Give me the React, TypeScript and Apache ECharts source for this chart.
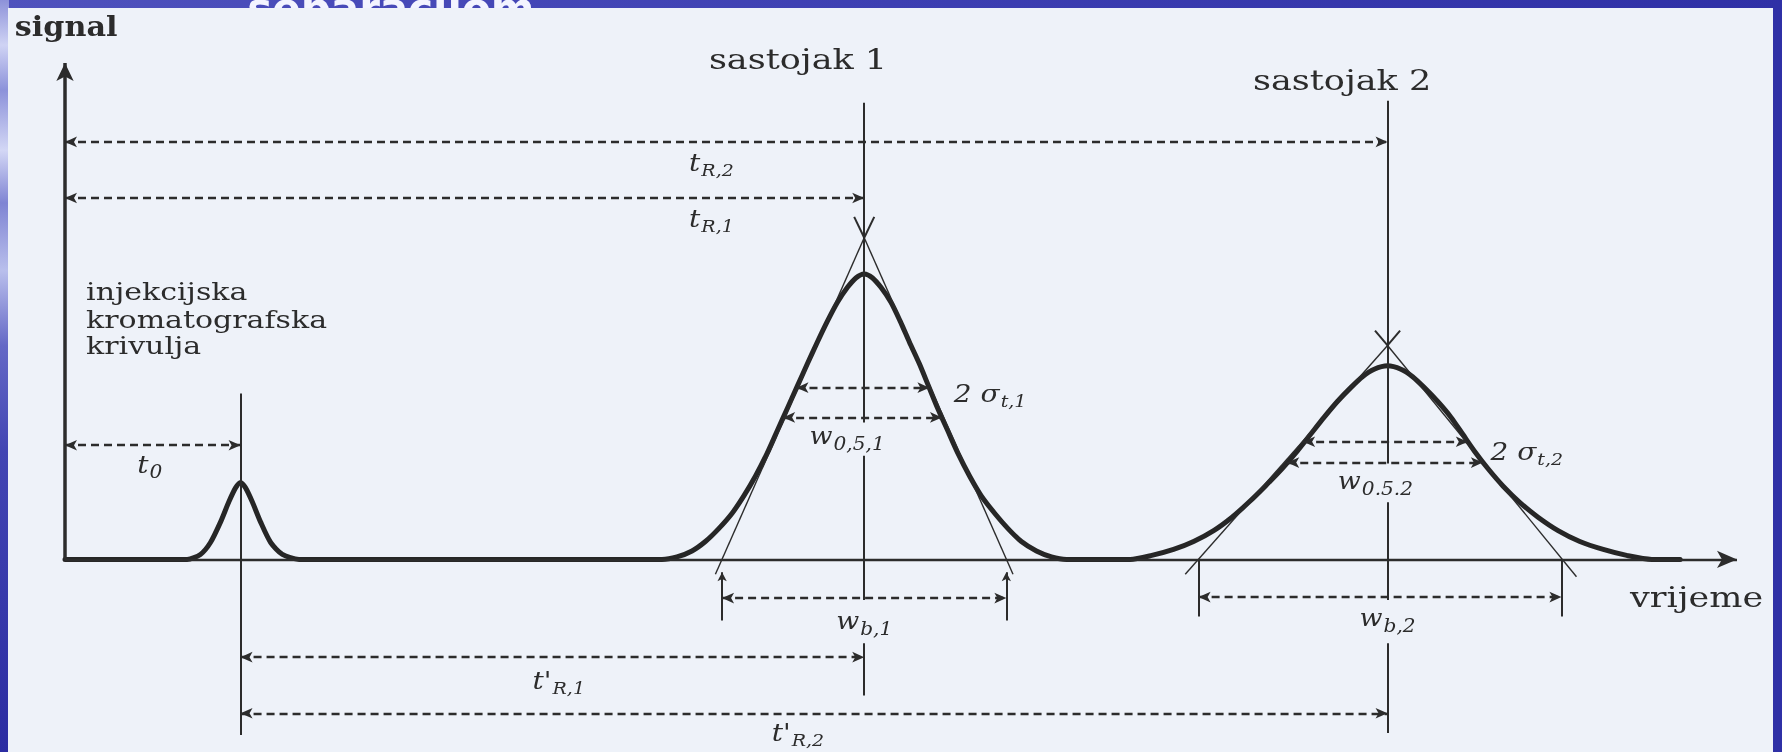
import React, { useEffect, useRef } from "react";
import * as echarts from "echarts";

// ---- scales: time (arbitrary units) and detector signal (% of full scale) ----
const X_MIN = 0;
const X_MAX = 100;
const Y_MIN = -38;
const Y_MAX = 100;

// ---- retention times ----
const T0 = 10.5;
const TR1 = 47.8;
const TR2 = 79.1;

// ---- detector trace [time, signal] ----
const injectionPeak: number[][] = [
  [7.3, 0], [8.1, 1.0], [8.7, 3.4], [9.3, 7.5], [9.8, 11.6], [10.2, 14.4], [10.5, 15.5],
  [10.8, 14.4], [11.2, 11.6], [11.7, 7.5], [12.3, 3.4], [13.0, 1.0], [14.0, 0],
];

const peak1: number[][] = [
  [35.7, 0], [36.6, 0.5], [37.5, 1.7], [38.3, 3.6], [39.1, 6.2], [39.9, 9.3], [40.6, 12.8],
  [41.3, 16.8], [42.0, 21.4], [42.6, 25.9], [43.2, 30.4], [43.8, 34.9], [44.4, 39.4],
  [45.0, 43.8], [45.6, 48.0], [46.2, 51.8], [46.8, 54.8], [47.3, 56.7], [47.8, 57.5],
  [48.3, 56.7], [48.8, 54.8], [49.4, 51.8], [49.95, 48.0], [50.5, 43.8], [51.1, 39.4],
  [51.65, 34.9], [52.2, 30.4], [52.8, 25.9], [53.4, 21.4], [54.1, 16.8], [54.8, 12.8],
  [55.6, 9.3], [56.4, 6.2], [57.2, 3.6], [58.1, 1.7], [59.0, 0.5], [59.9, 0],
];

const peak2: number[][] = [
  [63.7, 0], [65.0, 0.8], [66.3, 2.0], [67.5, 3.6], [68.7, 5.8], [69.8, 8.5], [70.8, 11.5],
  [71.8, 14.8], [72.8, 18.3], [73.7, 21.8], [74.5, 25.2], [75.3, 28.6], [76.1, 31.8],
  [76.9, 34.6], [77.6, 36.8], [78.3, 38.3], [79.1, 39.0], [79.9, 38.3], [80.6, 36.8],
  [81.3, 34.6], [82.1, 31.8], [82.9, 28.6], [83.6, 25.2], [84.3, 21.8], [85.1, 18.3],
  [86.0, 14.8], [87.0, 11.5], [88.1, 8.5], [89.3, 5.8], [90.6, 3.6], [92.0, 2.0],
  [93.4, 0.8], [94.9, 0],
];

const traceEnd = 96.6;

// ---- tangents at the inflection points: [apex, end below baseline] ----
const tangents: number[][][] = [
  [[47.8, 64.8], [38.9, -3.0]],
  [[47.8, 64.8], [56.7, -3.0]],
  [[79.1, 43.1], [67.0, -3.0]],
  [[79.1, 43.1], [90.4, -3.5]],
];

// ---- dashed dimension lines with arrowheads at both ends ----
const dimensionLines = [
  { y: 84.1, from: 0, to: TR2 }, // t_R,2
  { y: 72.8, from: 0, to: TR1 }, // t_R,1
  { y: 23.0, from: 0, to: T0 }, // t_0
  { y: 34.6, from: 43.75, to: 51.7 }, // 2σ (1)
  { y: 28.6, from: 42.95, to: 52.45 }, // w 0,5 (1)
  { y: 23.7, from: 74.05, to: 83.9 }, // 2σ (2)
  { y: 19.5, from: 73.1, to: 84.8 }, // w 0,5 (2)
  { y: -7.8, from: 39.3, to: 56.3 }, // w_b,1
  { y: -7.6, from: 67.8, to: 89.5 }, // w_b,2
  { y: -19.7, from: T0, to: TR1 }, // t'_R,1
  { y: -31.0, from: T0, to: TR2 }, // t'_R,2
];

// ---- vertical retention markers, drawn in pieces around their labels ----
const markerLines = [
  { x: T0, spans: [[33.4, -35.4]] },
  { x: TR1, spans: [[92.0, 27.6], [20.9, -8.2], [-16.9, -27.4]] },
  { x: TR2, spans: [[92.4, 19.3], [11.5, -8.2], [-16.9, -35.0]] },
];

// ---- base width ticks where the tangents meet the baseline ----
const baseTicks = [
  { x: 39.3, top: -2.6, bottom: -12.3, arrow: true },
  { x: 56.3, top: -2.6, bottom: -12.3, arrow: true },
  { x: 67.8, top: -0.2, bottom: -11.5, arrow: false },
  { x: 89.5, top: -0.2, bottom: -11.5, arrow: false },
];

// ---- open "V" arrows on the tangent apexes ----
const apexMarks = [
  { x: TR1, tip: 64.8, arm: 4.2, half: 0.6 },
  { x: TR2, tip: 43.1, arm: 3.0, half: 0.75 },
];

// ---- symbol labels with subscripts: anchor is where the subscript starts ----
const mathLabels = [
  { at: [38.0, 80.1], main: "t", sub: "R,2", size: 25, subSize: 17 },
  { at: [38.0, 68.8], main: "t", sub: "R,1", size: 25, subSize: 17 },
  { at: [5.0, 19.3], main: "t", sub: "0", size: 25, subSize: 18 },
  { at: [55.9, 33.6], main: "2 σ", sub: "t,1", size: 25, subSize: 17 },
  { at: [45.9, 24.9], main: "w", sub: "0,5,1", size: 24, subSize: 18 },
  { at: [88.0, 21.9], main: "2 σ", sub: "t,2", size: 25, subSize: 17 },
  { at: [77.5, 15.9], main: "w", sub: "0.5.2", size: 24, subSize: 18 },
  { at: [47.5, -12.3], main: "w", sub: "b,1", size: 24, subSize: 18 },
  { at: [78.8, -11.7], main: "w", sub: "b,2", size: 24, subSize: 18 },
  { at: [29.1, -24.3], main: "t'", sub: "R,1", size: 25, subSize: 17 },
  { at: [43.4, -34.8], main: "t'", sub: "R,2", size: 25, subSize: 17 },
];

// ---- plain text labels ----
const plainLabels = [
  { at: [-3.0, 107.3], text: "signal", align: "left", size: 27, weight: "bold", wide: 1.12 },
  { at: [43.84, 100.8], text: "sastojak 1", align: "center", size: 28, weight: "normal", wide: 1.25 },
  { at: [76.38, 96.6], text: "sastojak 2", align: "center", size: 28, weight: "normal", wide: 1.25 },
  { at: [1.26, 53.9], text: "injekcijska", align: "left", size: 24, weight: "normal", wide: 1.25 },
  { at: [1.26, 48.4], text: "kromatografska", align: "left", size: 24, weight: "normal", wide: 1.25 },
  { at: [1.26, 43.0], text: "krivulja", align: "left", size: 24, weight: "normal", wide: 1.25 },
  { at: [93.6, -7.7], text: "vrijeme", align: "left", size: 28, weight: "normal", wide: 1.25 },
];

const slideTitleTail = { at: [10.9, 110.9], text: "separacijom" };

const INK = "#2c2c2c";
const SERIF = "'DejaVu Serif', serif";

function pair(a: number[], b: number[], extra: any = {}, extraEnd: any = {}) {
  return [
    { coord: a, ...extra },
    { coord: b, ...extraEnd },
  ];
}

function carrier(name: string, markLine: any) {
  return {
    name,
    type: "line",
    data: [[0, 0]],
    showSymbol: false,
    lineStyle: { opacity: 0 },
    silent: true,
    z: 3,
    markLine: {
      silent: true,
      animation: false,
      label: { show: false },
      emphasis: { disabled: true },
      ...markLine,
    },
  };
}

function buildOption() {
  const trace = [[0, 0], ...injectionPeak, ...peak1, ...peak2, [traceEnd, 0]];

  const axesLines = [
    pair([0, 0], [0, Y_MAX], { symbol: "none", lineStyle: { width: 3.5, color: INK, type: "solid" } },
      { symbol: "arrow", symbolSize: [13, 18] }),
    pair([0, 0], [X_MAX, 0], { symbol: "none", lineStyle: { width: 2.3, color: INK, type: "solid" } },
      { symbol: "arrow", symbolSize: [13, 20] }),
  ];

  const dims = dimensionLines.map((d) => pair([d.from, d.y], [d.to, d.y]));

  const markers: any[] = [];
  markerLines.forEach((m) =>
    m.spans.forEach((s) => markers.push(pair([m.x, s[0]], [m.x, s[1]])))
  );
  baseTicks.forEach((t) =>
    markers.push(
      pair([t.x, t.bottom], [t.x, t.top], {}, t.arrow ? { symbol: "arrow", symbolSize: [7, 9] } : {})
    )
  );
  apexMarks.forEach((a) => {
    markers.push(pair([a.x - a.half, a.tip + a.arm], [a.x, a.tip]));
    markers.push(pair([a.x + a.half, a.tip + a.arm], [a.x, a.tip]));
  });

  const tan = tangents.map((t) => pair(t[0], t[1]));

  return {
    animation: false,
    grid: { left: 65, right: 45, top: 63, bottom: 4 },
    xAxis: { type: "value", min: X_MIN, max: X_MAX, show: false },
    yAxis: { type: "value", min: Y_MIN, max: Y_MAX, show: false },
    series: [
      carrier("axes", { symbol: ["none", "none"], data: axesLines }),
      carrier("tangents", {
        symbol: ["none", "none"],
        lineStyle: { color: INK, width: 1.4, type: "solid" },
        data: tan,
      }),
      carrier("markers", {
        symbol: ["none", "none"],
        lineStyle: { color: INK, width: 2, type: "solid" },
        data: markers,
      }),
      carrier("dimensions", {
        symbol: ["arrow", "arrow"],
        symbolSize: [8, 12],
        lineStyle: { color: INK, width: 2.4, type: [8, 5] },
        data: dims,
      }),
      {
        name: "chromatogram",
        type: "line",
        data: trace,
        showSymbol: false,
        smooth: 0.25,
        silent: true,
        z: 4,
        lineStyle: { color: "#262626", width: 5, cap: "round", join: "round" },
      },
    ],
  };
}

function buildGraphics(chart: any) {
  const px = (p: number[]) => chart.convertToPixel({ gridIndex: 0 }, p) as number[];
  const W = chart.getWidth();
  const H = chart.getHeight();
  const els: any[] = [];

  // slide backdrop
  els.push({
    type: "rect",
    z: -30,
    silent: true,
    shape: { x: 0, y: 0, width: W, height: H },
    style: {
      fill: new echarts.graphic.LinearGradient(0, 0, 1, 0, [
        { offset: 0, color: "#4f52bd" },
        { offset: 0.5, color: "#3d3fb2" },
        { offset: 1, color: "#2f30a6" },
      ]),
    },
  });
  // streaked left margin
  els.push({
    type: "rect",
    z: -29,
    silent: true,
    shape: { x: 0, y: 0, width: 9, height: H },
    style: {
      fill: new echarts.graphic.LinearGradient(0, 0, 0, 1, [
        { offset: 0, color: "#8d92d9" },
        { offset: 0.06, color: "#cfd3f4" },
        { offset: 0.12, color: "#8c92da" },
        { offset: 0.2, color: "#d3d7f5" },
        { offset: 0.27, color: "#7f84d3" },
        { offset: 0.36, color: "#b9bfec" },
        { offset: 0.46, color: "#6468c6" },
        { offset: 0.6, color: "#4245b3" },
        { offset: 1, color: "#2b2ca2" },
      ]),
    },
  });
  // slide title tail peeking above the figure panel
  const [tx, ty] = px(slideTitleTail.at);
  els.push({
    type: "text",
    z: -28,
    silent: true,
    x: tx,
    y: ty,
    style: {
      text: slideTitleTail.text,
      fill: "#f3f4ff",
      font: "bold 42px 'DejaVu Sans', sans-serif",
      align: "left",
      textAlign: "left",
      verticalAlign: "middle",
      textVerticalAlign: "middle",
    },
  });
  // figure panel
  els.push({
    type: "rect",
    z: -27,
    silent: true,
    shape: { x: 8, y: 8, width: W - 17, height: H - 8 },
    style: { fill: "#eef2f9" },
  });

  const text = (x: number, y: number, str: string, font: string, align: string, scaleX: number) => ({
    type: "text",
    z: 20,
    silent: true,
    x,
    y,
    scaleX,
    style: {
      text: str,
      fill: INK,
      font,
      align,
      textAlign: align,
      verticalAlign: "middle",
      textVerticalAlign: "middle",
    },
  });

  plainLabels.forEach((l) => {
    const [x, y] = px(l.at);
    els.push(text(x, y, l.text, `${l.weight} ${l.size}px ${SERIF}`, l.align, l.wide));
  });

  mathLabels.forEach((l) => {
    const [x, y] = px(l.at);
    els.push(text(x, y, l.main, `italic ${l.size}px ${SERIF}`, "right", 1.12));
    els.push(text(x + 1, y + 8, l.sub, `italic ${l.subSize}px ${SERIF}`, "left", 1.12));
  });

  return els;
}

export default function App() {
  const ref = useRef<HTMLDivElement>(null);
  useEffect(() => {
    const el = ref.current;
    if (!el) return;
    const chart = echarts.init(el, undefined, { renderer: "svg" });
    chart.setOption(buildOption());
    chart.setOption({ graphic: { elements: buildGraphics(chart) } });
    return () => chart.dispose();
  }, []);
  return (
    <div
      ref={ref}
      style={{ position: "fixed", left: 0, top: 0, width: 1782, height: 752 }}
    />
  );
}
